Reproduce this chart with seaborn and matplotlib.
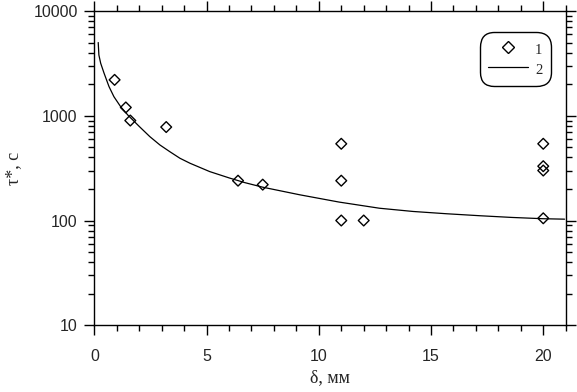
import matplotlib

matplotlib.use("Agg")
import numpy as np
import pandas as pd
import matplotlib.pyplot as plt
import seaborn as sns
from matplotlib.ticker import MultipleLocator, LogLocator, FixedFormatter, FixedLocator
from matplotlib.lines import Line2D

# %% data
# series 1: measured points (diamonds)
delta_pts = [0.9, 1.4, 1.6, 3.2, 6.4, 7.5, 11, 11, 11, 12, 20, 20, 20, 20]
tau_pts = [2200, 1200, 900, 780, 240, 220, 540, 240, 100, 100, 540, 330, 300, 105]

# series 2: calculated curve
delta_line = [0.17, 0.2, 0.28, 0.43, 0.65, 0.87, 1.17, 1.5, 2.0, 2.47, 2.92,
              3.36, 3.81, 4.26, 5.14, 6.03, 6.7, 7.5, 9.15, 10.9, 12.7, 14.2,
              15.7, 17.2, 18.6, 20.0, 20.95]
tau_line = [5000, 3800, 3170, 2550, 1900, 1520, 1220, 1010, 790, 632, 526,
            454, 393, 352, 293, 254, 230, 208, 176, 150, 131, 122,
            116, 111, 107, 104, 103]

y_ticks = [10, 100, 1000, 10000]
y_tick_labels = ["10", "100", "1000", "10000"]
x_ticks = [0, 5, 10, 15, 20]
legend_labels = ["1", "2"]

pts = pd.DataFrame({"delta": delta_pts, "tau": tau_pts})
curve = pd.DataFrame({"delta": delta_line, "tau": tau_line})

# %% plot
sns.set_style("ticks")
plt.rcParams["font.family"] = ["Liberation Sans", "DejaVu Sans"]

fig = plt.figure(figsize=(5.77, 3.92), dpi=100)
ax = fig.add_axes([0.1636, 0.1702, 0.8168, 0.8018])

sns.lineplot(data=curve, x="delta", y="tau", color="black", linewidth=0.9,
             ax=ax, sort=False)
sns.scatterplot(data=pts, x="delta", y="tau", marker="D", s=30,
                facecolor="none", edgecolor="black", linewidth=1.0, ax=ax)

ax.set_yscale("log")
ax.set_xlim(0, 21)
ax.set_ylim(10, 10000)

ax.xaxis.set_major_locator(FixedLocator(x_ticks))
ax.xaxis.set_minor_locator(MultipleLocator(1))
ax.yaxis.set_major_locator(FixedLocator(y_ticks))
ax.yaxis.set_major_formatter(FixedFormatter(y_tick_labels))
ax.yaxis.set_minor_locator(LogLocator(base=10, subs=np.arange(2, 10), numticks=20))

for s in ax.spines.values():
    s.set_linewidth(1.0)
    s.set_color("black")
    s.set_visible(True)

ax.tick_params(which="both", direction="out", top=True, right=True,
               color="black", width=1.0)
ax.tick_params(which="major", length=7, labelsize=11.5)
ax.tick_params(which="minor", length=4.5)
ax.tick_params(axis="x", which="major", pad=10)
ax.tick_params(axis="y", which="major", pad=5)

serif = ["Liberation Serif", "DejaVu Serif"]
ax.set_xlabel("δ, мм", family=serif, fontsize=13, labelpad=4)
ax.set_ylabel("τ*, с", family=serif, fontsize=13, labelpad=8)

handles = [
    Line2D([], [], linestyle="none", marker="D", markersize=6.5,
           markerfacecolor="none", markeredgecolor="black", markeredgewidth=1.0),
    Line2D([], [], color="black", linewidth=0.9),
]
leg = ax.legend(handles, legend_labels, loc="upper right",
                bbox_to_anchor=(0.969, 0.933), borderaxespad=0,
                prop={"family": serif, "size": 10.5}, handlelength=2.7,
                handleheight=1.4, handletextpad=0.5, labelspacing=0.22,
                borderpad=0.6, frameon=True, fancybox=True)
frame = leg.get_frame()
frame.set_edgecolor("black")
frame.set_linewidth(1.0)
frame.set_alpha(1)
frame.set_boxstyle("round,pad=0,rounding_size=1.0")

fig.savefig("out.png", dpi=100)
